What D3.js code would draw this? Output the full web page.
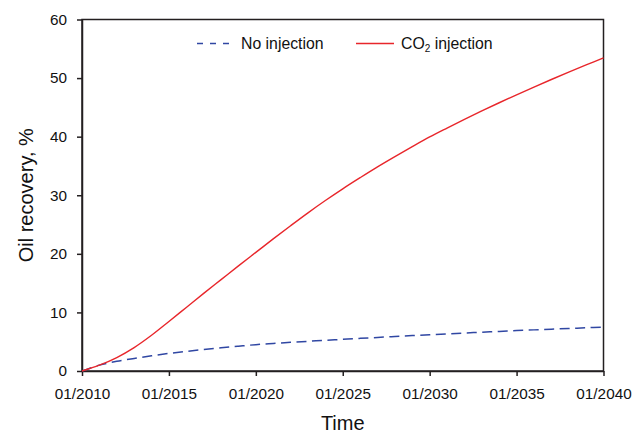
<!DOCTYPE html>
<html>
<head>
<meta charset="utf-8">
<script src="https://cdn.jsdelivr.net/npm/d3@7"></script>
<style>
  body { margin: 0; background: #fff; }
  svg { display: block; }
  text { font-family: "Liberation Sans", Arial, sans-serif; fill: #111; }
</style>
</head>
<body>
<svg id="chart" width="644" height="433"></svg>
<script>
// ---- data ----
const years = [2010,2011,2012,2013,2014,2015,2016,2017,2018,2019,2020,2021,2022,2023,2024,2025,2026,2027,2028,2029,2030,2031,2032,2033,2034,2035,2036,2037,2038,2039,2040];
const noInjection = [0,1.0,1.65,2.15,2.6,3.0,3.35,3.66,3.95,4.23,4.5,4.7,4.89,5.07,5.24,5.4,5.57,5.73,5.89,6.04,6.19,6.34,6.48,6.62,6.76,6.9,7.02,7.14,7.26,7.38,7.5];
const co2Injection = [0,1.0,2.3,4.0,6.1,8.45,10.85,13.25,15.6,17.95,20.25,22.55,24.8,27.0,29.1,31.1,33.0,34.85,36.6,38.3,39.95,41.47,42.95,44.39,45.79,47.15,48.47,49.76,51.02,52.25,53.45];
const xTickYears = [2010,2015,2020,2025,2030,2035,2040];
const xTickLabels = ["01/2010","01/2015","01/2020","01/2025","01/2030","01/2035","01/2040"];
const yTicks = [0,10,20,30,40,50,60];

// ---- layout ----
const svg = d3.select("#chart");
const L = 82, R = 603.5, T = 19.5, B = 371;
const x = d3.scaleLinear().domain([2010, 2040]).range([L, R]);
const y = d3.scaleLinear().domain([0, 60]).range([B, T]);
const axisColor = "#231f20";

// frame
svg.append("rect").attr("x", L).attr("y", T).attr("width", R - L).attr("height", B - T)
  .attr("fill", "none").attr("stroke", axisColor).attr("stroke-width", 1.5);

// x axis
const xAxis = d3.axisBottom(x).tickValues(xTickYears)
  .tickFormat((d, i) => xTickLabels[i]).tickSize(5).tickSizeOuter(0).tickPadding(12);
const gx = svg.append("g").attr("transform", `translate(0,${B})`).call(xAxis);
gx.select(".domain").attr("stroke", axisColor).attr("stroke-width", 1.5);
gx.selectAll(".tick line").attr("stroke", axisColor).attr("stroke-width", 1.5);
gx.selectAll(".tick text").attr("font-size", 15.3).attr("fill", "#111")
  .attr("font-family", "Liberation Sans, Arial, sans-serif");

// y axis
const yAxis = d3.axisLeft(y).tickValues(yTicks).tickSize(5).tickSizeOuter(0).tickPadding(10);
const gy = svg.append("g").attr("transform", `translate(${L},0)`).call(yAxis);
gy.select(".domain").attr("stroke", axisColor).attr("stroke-width", 1.5);
gy.selectAll(".tick line").attr("stroke", axisColor).attr("stroke-width", 1.5);
gy.selectAll(".tick text").attr("font-size", 15.3).attr("fill", "#111")
  .attr("font-family", "Liberation Sans, Arial, sans-serif");

// lines
const line = d3.line().x((d, i) => x(years[i])).y(d => y(d)).curve(d3.curveCatmullRom);
svg.append("path").datum(noInjection).attr("d", line)
  .attr("fill", "none").attr("stroke", "#3047a3").attr("stroke-width", 1.5)
  .attr("stroke-dasharray", "10,5.5");
svg.append("path").datum(co2Injection).attr("d", line)
  .attr("fill", "none").attr("stroke", "#e8262b").attr("stroke-width", 1.4);

// legend
const lg = svg.append("g");
lg.append("line").attr("x1", 197).attr("x2", 235).attr("y1", 43.5).attr("y2", 43.5)
  .attr("stroke", "#3047a3").attr("stroke-width", 1.5).attr("stroke-dasharray", "6,7");
lg.append("text").attr("x", 241).attr("y", 48.5).attr("font-size", 15.8).text("No injection");
lg.append("line").attr("x1", 356).attr("x2", 394).attr("y1", 43.5).attr("y2", 43.5)
  .attr("stroke", "#e8262b").attr("stroke-width", 1.4);
const co = lg.append("text").attr("x", 401).attr("y", 48.5).attr("font-size", 15.8);
co.append("tspan").text("CO");
co.append("tspan").attr("font-size", 10).attr("dy", 3).text("2");
co.append("tspan").attr("dy", -3).text(" injection");

// axis titles
svg.append("text").attr("x", (L + R) / 2).attr("y", 430).attr("text-anchor", "middle")
  .attr("font-size", 20).text("Time");
svg.append("text").attr("transform", `translate(33,${(T + B) / 2}) rotate(-90)`)
  .attr("text-anchor", "middle").attr("font-size", 20).text("Oil recovery, %");
</script>
</body>
</html>
